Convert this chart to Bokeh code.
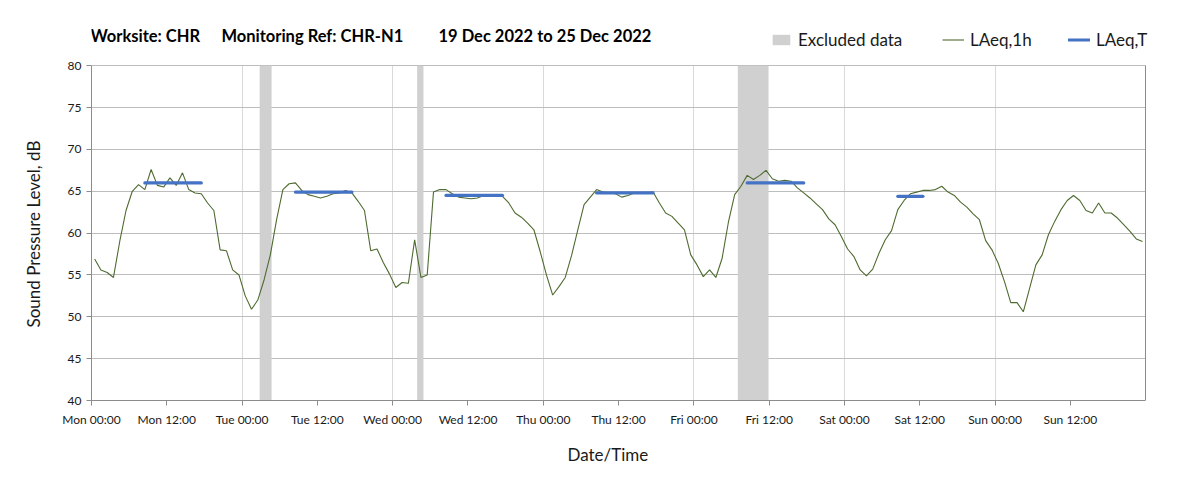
from bokeh.plotting import figure
from bokeh.models import FixedTicker, Label, Legend, LegendItem, Range1d, ColumnDataSource, Title, Grid
from bokeh.embed import file_html
from bokeh.resources import INLINE

FONT = "Lato"

# hourly LAeq,1h values (dB), Mon 00:00 .. Sun 23:00
laeq_1h = [
    56.9, 55.6, 55.3, 54.7, 59.0, 62.7, 65.0, 65.8, 65.2, 67.6, 65.7, 65.5,
    66.6, 65.7, 67.2, 65.2, 64.8, 64.7, 63.6, 62.7, 58.0, 57.9, 55.6, 55.0,
    52.5, 50.9, 52.0, 54.4, 57.4, 61.6, 65.2, 65.9, 66.0, 65.1, 64.6, 64.4,
    64.2, 64.4, 64.7, 64.8, 65.1, 64.8, 63.8, 62.7, 57.9, 58.1, 56.5, 55.1,
    53.5, 54.1, 54.0, 59.2, 54.7, 55.0, 64.9, 65.2, 65.2, 64.7, 64.3, 64.2,
    64.1, 64.2, 64.5, 64.5, 64.5, 64.4, 63.6, 62.4, 61.9, 61.2, 60.4, 57.8,
    55.0, 52.6, 53.6, 54.7, 57.3, 60.4, 63.4, 64.3, 65.2, 64.9, 64.8, 64.7,
    64.3, 64.5, 64.8, 64.8, 64.8, 64.9, 63.6, 62.4, 62.0, 61.2, 60.4, 57.4,
    56.2, 54.8, 55.6, 54.7, 57.0, 61.3, 64.6, 65.6, 66.9, 66.4, 66.9, 67.5,
    66.5, 66.2, 66.3, 66.2, 65.4, 64.8, 64.2, 63.5, 62.8, 61.7, 61.0, 59.6,
    58.1, 57.2, 55.6, 54.9, 55.7, 57.6, 59.2, 60.3, 62.8, 63.9, 64.7, 64.9,
    65.1, 65.1, 65.2, 65.6, 64.9, 64.5, 63.7, 63.1, 62.3, 61.6, 59.1, 58.0,
    56.4, 54.2, 51.7, 51.7, 50.6, 53.4, 56.2, 57.4, 59.8, 61.4, 62.8, 63.9,
    64.5, 63.9, 62.7, 62.4, 63.6, 62.4, 62.4, 61.8, 61.0, 60.2, 59.3, 59.0,
]
hour_index = list(range(len(laeq_1h)))

# excluded periods (hours from Mon 00:00)
excl_start = [26.8, 51.9, 103.0]
excl_end = [28.7, 52.9, 107.9]

# LAeq,T daytime periods (hours) and values
laeqT_start = [8.5, 32.5, 56.5, 80.5, 104.5, 128.5]
laeqT_end = [17.5, 41.5, 65.5, 89.5, 113.5, 132.5]
laeqT_val = [66.0, 64.9, 64.5, 64.8, 66.0, 64.4]

tick_hours = list(range(0, 168, 12))
tick_labels = ["Mon 00:00", "Mon 12:00", "Tue 00:00", "Tue 12:00", "Wed 00:00",
               "Wed 12:00", "Thu 00:00", "Thu 12:00", "Fri 00:00", "Fri 12:00",
               "Sat 00:00", "Sat 12:00", "Sun 00:00", "Sun 12:00"]
grid_hours = list(range(24, 168, 24))
y_ticks = list(range(40, 81, 5))
X_MIN, X_MAX = 0, 168
X_PAD = 171  # extra room on the right for the legend text
Y_MIN, Y_MAX = 40, 80
Y_TOP = 86  # room above the plot for title and legend

p = figure(width=1203, height=496, output_backend="svg", toolbar_location=None,
           x_range=Range1d(X_MIN, X_PAD), y_range=Range1d(Y_MIN, Y_TOP),
           min_border_left=91, min_border_right=39, min_border_top=15,
           min_border_bottom=96)
p.background_fill_color = "white"
p.border_fill_color = "white"
p.outline_line_color = None

# excluded bands
ex_src = ColumnDataSource(dict(left=excl_start, right=excl_end,
                               top=[Y_MAX] * len(excl_start), bottom=[Y_MIN] * len(excl_start)))
r_ex = p.quad(left="left", right="right", top="top", bottom="bottom", source=ex_src,
              fill_color="#d0d0d0", line_color=None)

# hourly line
src = ColumnDataSource(dict(x=[h + 0.5 for h in hour_index], y=laeq_1h))
r_line = p.line("x", "y", source=src, line_color="#4e6b30", line_width=1.1)

# LAeq,T segments
t_src = ColumnDataSource(dict(x0=laeqT_start, x1=laeqT_end, y=laeqT_val))
r_t = p.segment(x0="x0", y0="y", x1="x1", y1="y", source=t_src,
                line_color="#4472c4", line_width=3.2, line_cap="round")

# axes
p.xaxis.ticker = FixedTicker(ticks=tick_hours)
p.xaxis.major_label_overrides = {h: l for h, l in zip(tick_hours, tick_labels)}
p.xaxis.bounds = (X_MIN, X_MAX)
p.yaxis.ticker = FixedTicker(ticks=y_ticks)
p.yaxis.bounds = (Y_MIN, Y_MAX)
for ax in (p.xaxis[0], p.yaxis[0]):
    ax.axis_line_color = "#8c8c8c"
    ax.major_tick_line_color = "#8c8c8c"
    ax.major_tick_out = 5
    ax.major_tick_in = 0
    ax.minor_tick_out = 0
    ax.minor_tick_in = 0
    ax.major_label_text_font = FONT
    ax.major_label_text_font_size = "12px"
    ax.major_label_text_color = "#1a1a1a"
p.xaxis.major_label_standoff = 6
p.yaxis.major_label_standoff = 5

# x-axis title, centred under the 0-168 h span
xtitle = Title(text="Date/Time", align="left", offset=476,
               text_font=FONT, text_font_size="17px", text_font_style="normal",
               text_color="#1a1a1a", standoff=24)
p.add_layout(xtitle, "below")

# y-axis title, centred on the 40-80 dB area
ytitle = Title(text="Sound Pressure Level, dB", align="left", offset=73,
               text_font=FONT, text_font_size="17px", text_font_style="normal",
               text_color="#1a1a1a", standoff=41)
p.add_layout(ytitle, "left")

# grids
p.xgrid.ticker = FixedTicker(ticks=grid_hours)
p.xgrid.grid_line_color = "#d9d9d9"
p.xgrid.cross_bounds = (Y_MIN, Y_MAX)
p.ygrid.ticker = FixedTicker(ticks=y_ticks)
p.ygrid.grid_line_color = "#bdbdbd"
p.ygrid.cross_bounds = (X_MIN, X_MAX)
# right frame edge
p.add_layout(Grid(dimension=0, ticker=FixedTicker(ticks=[X_MAX]), grid_line_color="#8c8c8c",
                  cross_bounds=(Y_MIN, Y_MAX), axis=p.xaxis[0]))

# title pieces
for txt, xh in [("Worksite: CHR", -0.16), ("Monitoring Ref: CHR-N1", 20.7),
                ("19 Dec 2022 to 25 Dec 2022", 55.3)]:
    p.add_layout(Label(x=xh, y=83.6, text=txt, text_font=FONT, text_font_size="16.5px",
                       text_font_style="bold", text_color="#000000",
                       text_baseline="middle", text_align="left"))

# legends (one per item, positioned above the data area)
def add_leg(label, rend, xloc):
    lg = Legend(items=[LegendItem(label=label, renderers=[rend])],
                location=(xloc, 350), orientation="horizontal",
                padding=0, margin=0, border_line_color=None,
                background_fill_alpha=0, glyph_width=22, glyph_height=13,
                label_standoff=6, label_text_font=FONT,
                label_text_font_size="17px", label_text_color="#1a1a1a",
                label_height=20)
    p.add_layout(lg, "center")

add_leg("Excluded data", r_ex, 679)
add_leg("LAeq,1h", r_line, 851)
add_leg("LAeq,T", r_t, 977)

open("out.html", "w").write(file_html(p, INLINE))
